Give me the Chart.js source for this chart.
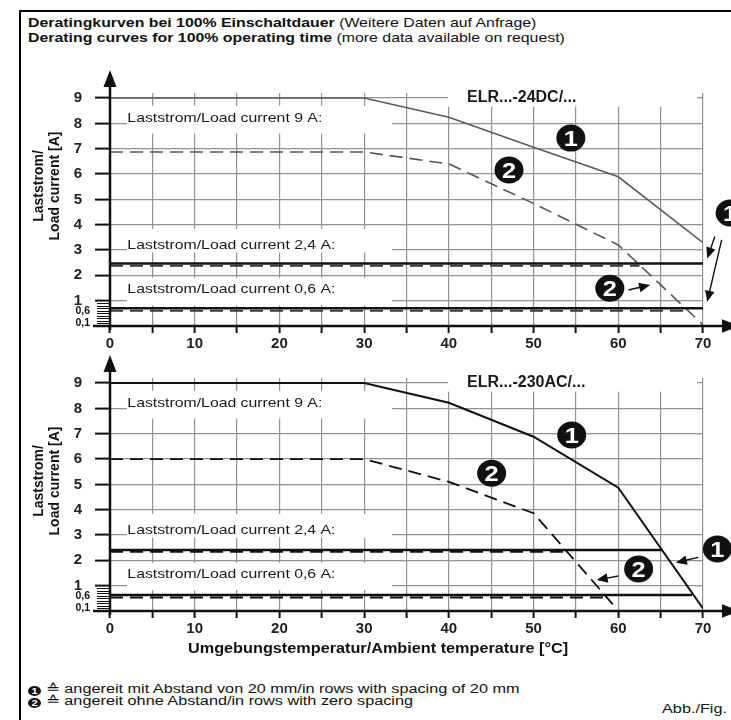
<!DOCTYPE html>
<html>
<head>
<meta charset="utf-8">
<script src="https://cdn.jsdelivr.net/npm/chart.js@4.4.0/dist/chart.umd.min.js"></script>
<style>
  body { margin: 0; background: #fff; }
  #page { position: relative; width: 731px; height: 720px; overflow: hidden;
          font-family: "Liberation Sans", Arial, sans-serif; color: #111; }
  canvas { position: absolute; left: 0; }
  .frame { position: absolute; left: 19px; top: 10px; width: 800px; height: 800px;
           border-left: 2px solid #000; border-top: 2px solid #000; }
  .wide { position: absolute; white-space: nowrap; transform-origin: 0 0; }
  .title { left: 28px; top: 16px; font-size: 13px; line-height: 14.5px; transform: scaleX(1.22); }
  .ytitle { position: absolute; width: 200px; height: 32px; font-size: 14px; font-weight: bold;
            line-height: 16px; text-align: center; transform: rotate(-90deg); }
  .xtitle { left: 188px; top: 640px; font-size: 14px; font-weight: bold; transform: scaleX(1.16); }
  .legend { left: 28px; top: 684px; font-size: 12.5px; line-height: 11.5px; transform: scaleX(1.3); }
  .num { display: inline-block; width: 10px; height: 10px; border-radius: 50%; background: #111;
         color: #fff; font-size: 8.5px; font-weight: bold; line-height: 10px; text-align: center;
         vertical-align: -1px; }
  .fig { left: 662px; top: 702px; font-size: 12.5px; transform: scaleX(1.3); }
</style>
</head>
<body>
<div id="page">
  <div class="frame"></div>
  <div class="wide title"><b>Deratingkurven bei 100% Einschaltdauer</b> (Weitere Daten auf Anfrage)<br><b>Derating curves for 100% operating time</b> (more data available on request)</div>

  <canvas id="chartTop" width="731" height="360" style="top:0px"></canvas>
  <canvas id="chartBottom" width="731" height="360" style="top:285px"></canvas>

  <div class="ytitle" style="left:-54px; top:170px;">Laststrom/<br>Load current [A]</div>
  <div class="ytitle" style="left:-54px; top:465px;">Laststrom/<br>Load current [A]</div>

  <div class="wide xtitle">Umgebungstemperatur/Ambient temperature [°C]</div>
  <div class="wide legend"><span class="num">1</span> ≙ angereit mit Abstand von 20 mm/in rows with spacing of 20 mm<br><span class="num">2</span> ≙ angereit ohne Abstand/in rows with zero spacing</div>
  <div class="wide fig">Abb./Fig. 6</div>
</div>

<script>
// axis ticks
const tempTicks = [0, 5, 10, 15, 20, 25, 30, 35, 40, 45, 50, 55, 60, 65, 70];
const loadTicks = [0.1, 0.6, 1, 2, 3, 4, 5, 6, 7, 8, 9];
const loadTickLabels = ['0,1', '0,6', '1', '2', '3', '4', '5', '6', '7', '8', '9'];

// ELR...-24DC/...  (1 = rows with 20 mm spacing, 2 = zero spacing)
const dcTemps1 = [0, 30, 40, 50, 60, 70];
const dcLoad1  = [9, 9, 8.24, 7.06, 5.89, 3.29];
const dcTemps2 = [0, 30, 40, 50, 60, 70];
const dcLoad2  = [6.87, 6.87, 6.4, 4.84, 3.2, 0.05];
const dc24Temps1 = [0, 70];
const dc24Load1  = [2.47, 2.47];
const dc24Temps2 = [0, 62.5];
const dc24Load2  = [2.38, 2.38];
const dc06Temps1 = [0, 70];
const dc06Load1  = [0.7, 0.7];
const dc06Temps2 = [0, 68.2];
const dc06Load2  = [0.6, 0.6];

// ELR...-230AC/...
const acTemps1 = [0, 30, 40, 50, 60, 70];
const acLoad1  = [9, 9, 8.22, 6.88, 4.87, 0.1];
const acTemps2 = [0, 30, 40, 50, 59.6];
const acLoad2  = [6, 6, 5.1, 3.86, 0.17];
const ac24Temps1 = [0, 65.1];
const ac24Load1  = [2.41, 2.41];
const ac24Temps2 = [0, 53.8];
const ac24Load2  = [2.34, 2.34];
const ac06Temps1 = [0, 68.7];
const ac06Load1  = [0.63, 0.63];
const ac06Temps2 = [0, 58.3];
const ac06Load2  = [0.53, 0.53];

Chart.defaults.font.family = '"Liberation Sans", Arial, sans-serif';
const gridColor = '#929292';
const none = 'rgba(0,0,0,0)';

function arrowHead(ctx, x1, y1, x2, y2, len, half) {
    const a = Math.atan2(y2 - y1, x2 - x1);
    ctx.beginPath();
    ctx.moveTo(x2, y2);
    ctx.lineTo(x2 - len * Math.cos(a) + half * Math.sin(a), y2 - len * Math.sin(a) - half * Math.cos(a));
    ctx.lineTo(x2 - len * Math.cos(a) - half * Math.sin(a), y2 - len * Math.sin(a) + half * Math.cos(a));
    ctx.closePath();
    ctx.fill();
}

const decorPlugin = {
    id: 'decor',
    beforeDatasetsDraw(chart, args, o) {
        const { ctx, scales: { x, y } } = chart;
        ctx.save();
        o.boxes.forEach(b => {
            const L = x.getPixelForValue(b.x0), R = x.getPixelForValue(b.x1);
            const T = y.getPixelForValue(b.y1), B = y.getPixelForValue(b.y0);
            ctx.fillStyle = '#fff';
            ctx.fillRect(L, T, R - L, B - T);
            ctx.save();
            ctx.translate(x.getPixelForValue(b.tx), y.getPixelForValue(b.ty));
            ctx.scale(b.sx, 1);
            ctx.fillStyle = '#1a1a1a';
            ctx.font = b.font;
            ctx.textBaseline = 'middle';
            ctx.fillText(b.text, 0, 0);
            ctx.restore();
        });
        ctx.restore();
    },
    afterDatasetsDraw(chart, args, o) {
        const { ctx, chartArea, scales: { x, y } } = chart;
        const ax = chartArea.left, ay = y.getPixelForValue(0);
        ctx.save();
        ctx.strokeStyle = '#111';
        ctx.fillStyle = '#111';

        // axes with arrows
        ctx.lineWidth = 2.5;
        ctx.beginPath();
        ctx.moveTo(ax - 17, ay); ctx.lineTo(724, ay);
        ctx.moveTo(ax, ay + 4); ctx.lineTo(ax, chartArea.top - 6);
        ctx.stroke();
        arrowHead(ctx, 700, ay, 740, ay, 18, 6.7);
        arrowHead(ctx, ax, ay, ax, chartArea.top - 23, 17, 6.5);

        // dense minor ticks between 0,1 and 1
        ctx.lineWidth = 1;
        ctx.beginPath();
        for (let i = 1; i <= 9; i++) {
            const py = Math.round(y.getPixelForValue(i / 10)) + 0.5;
            ctx.moveTo(ax - 13, py); ctx.lineTo(ax, py);
        }
        ctx.stroke();

        // small tick labels
        ctx.font = 'bold 10.5px "Liberation Sans", Arial, sans-serif';
        ctx.textAlign = 'right';
        ctx.textBaseline = 'middle';
        loadTicks.forEach((v, i) => {
            if (v < 1) ctx.fillText(loadTickLabels[i], ax - 20, y.getPixelForValue(v));
        });

        // pointer arrows
        ctx.lineWidth = 1.4;
        o.arrows.forEach(a => {
            const x1 = x.getPixelForValue(a[0]), y1 = y.getPixelForValue(a[1]);
            const x2 = x.getPixelForValue(a[2]), y2 = y.getPixelForValue(a[3]);
            const ang = Math.atan2(y2 - y1, x2 - x1);
            ctx.beginPath();
            ctx.moveTo(x1, y1);
            ctx.lineTo(x2 - 8 * Math.cos(ang), y2 - 8 * Math.sin(ang));
            ctx.stroke();
            arrowHead(ctx, x1, y1, x2, y2, 11, 4.8);
        });

        // circled numbers
        o.markers.forEach(m => {
            const px = x.getPixelForValue(m.x), py = y.getPixelForValue(m.y);
            ctx.fillStyle = '#111';
            ctx.beginPath();
            ctx.ellipse(px, py, 14.5, 13.5, 0, 0, Math.PI * 2);
            ctx.fill();
            ctx.save();
            ctx.translate(px, py + 1.5);
            ctx.scale(1.15, 1);
            ctx.fillStyle = '#fff';
            ctx.font = 'bold 22px "Liberation Sans", Arial, sans-serif';
            ctx.textAlign = 'center';
            ctx.textBaseline = 'middle';
            ctx.fillText(m.label, 0, 0);
            ctx.restore();
        });
        ctx.restore();
    }
};

function labelBoxes(title) {
    const f = '13px "Liberation Sans", Arial, sans-serif';
    return [
        { text: 'Laststrom/Load current 9 A:', x0: 2, x1: 33.3, y0: 7.6, y1: 8.7, tx: 2.05, ty: 8.2, font: f, sx: 1.215 },
        { text: 'Laststrom/Load current 2,4 A:', x0: 2, x1: 33.3, y0: 2.9, y1: 3.84, tx: 2.05, ty: 3.2, font: f, sx: 1.215 },
        { text: 'Laststrom/Load current 0,6 A:', x0: 2, x1: 33.3, y0: 0.82, y1: 1.9, tx: 2.05, ty: 1.43, font: f, sx: 1.215 },
        { text: title, x0: 39.9, x1: 69.3, y0: 8.66, y1: 9.3, tx: 42.15, ty: 9.0,
          font: 'bold 16px "Liberation Sans", Arial, sans-serif', sx: 1 }
    ];
}

function line(temps, loads, color, width, dash) {
    return {
        data: temps.map((t, i) => ({ x: t, y: loads[i] })),
        showLine: true,
        borderColor: color,
        borderWidth: width,
        borderDash: dash || [],
        pointRadius: 0,
        tension: 0,
        fill: false
    };
}

function makeChart(canvasId, datasets, decor) {
    const ctx = document.getElementById(canvasId);
    if (!ctx) return;

    return new Chart(ctx, {
        type: 'scatter',
        data: { datasets: datasets },
        options: {
            responsive: false,
            animation: false,
            events: [],
            layout: { padding: { left: 0, right: 28, top: 93, bottom: 0 } },
            plugins: {
                legend: { display: false },
                tooltip: { enabled: false },
                decor: decor
            },
            scales: {
                x: {
                    type: 'linear', min: 0, max: 70,
                    afterBuildTicks: s => { s.ticks = tempTicks.map(v => ({ value: v })); },
                    afterFit: s => { s.height = 34; },
                    border: { display: false },
                    grid: {
                        color: c => (c.tick && c.tick.value === 0) ? none : gridColor,
                        lineWidth: 1.2,
                        tickLength: 7,
                        tickColor: '#111',
                        tickWidth: 2
                    },
                    ticks: {
                        autoSkip: false, maxRotation: 0, padding: 2, color: '#222',
                        font: { size: 15, weight: 'bold' },
                        callback: v => v % 10 === 0 ? String(v) : ''
                    }
                },
                y: {
                    type: 'linear', min: 0, max: 9.2,
                    afterBuildTicks: s => { s.ticks = loadTicks.map(v => ({ value: v })); },
                    afterFit: s => { s.width = 110; },
                    border: { display: false },
                    grid: {
                        color: c => (c.tick && c.tick.value >= 1) ? gridColor : none,
                        lineWidth: 1.2,
                        tickLength: 15,
                        tickColor: c => (c.tick && c.tick.value >= 1) ? '#111' : none,
                        tickWidth: 2
                    },
                    ticks: {
                        autoSkip: false, padding: 13, color: '#222',
                        font: { size: 15, weight: 'bold' },
                        callback: v => v >= 1 ? loadTickLabels[loadTicks.indexOf(v)] : ''
                    }
                }
            }
        },
        plugins: [decorPlugin]
    });
}

const dash = [13, 7];

makeChart('chartTop', [
    line(dc06Temps2, dc06Load2, '#3a3a3a', 2, dash),
    line(dc24Temps2, dc24Load2, '#3a3a3a', 2, dash),
    line(dc06Temps1, dc06Load1, '#111', 2.4),
    line(dc24Temps1, dc24Load1, '#111', 2.4),
    line(dcTemps2, dcLoad2, '#555', 1.6, dash),
    line(dcTemps1, dcLoad1, '#5a5a5a', 1.6)
], {
    boxes: labelBoxes('ELR...-24DC/...'),
    markers: [
        { x: 54.4, y: 7.42, label: '1' },
        { x: 47.1, y: 6.16, label: '2' },
        { x: 73.2, y: 4.46, label: '1' },
        { x: 59.0, y: 1.49, label: '2' }
    ],
    arrows: [
        [71.4, 3.53, 70.5, 2.67],
        [72.2, 3.40, 70.5, 0.96],
        [61.2, 1.42, 63.75, 1.62]
    ]
});

makeChart('chartBottom', [
    line(ac06Temps2, ac06Load2, '#111', 2, dash),
    line(ac24Temps2, ac24Load2, '#111', 2, dash),
    line(ac06Temps1, ac06Load1, '#111', 2.4),
    line(ac24Temps1, ac24Load1, '#111', 2.4),
    line(acTemps2, acLoad2, '#111', 1.8, dash),
    line(acTemps1, acLoad1, '#111', 2)
], {
    boxes: labelBoxes('ELR...-230AC/...'),
    markers: [
        { x: 54.5, y: 6.95, label: '1' },
        { x: 45.05, y: 5.44, label: '2' },
        { x: 71.7, y: 2.45, label: '1' },
        { x: 62.4, y: 1.66, label: '2' }
    ],
    arrows: [
        [69.45, 2.12, 66.8, 1.91],
        [60.0, 1.38, 57.45, 1.22]
    ]
});
</script>
</body>
</html>
